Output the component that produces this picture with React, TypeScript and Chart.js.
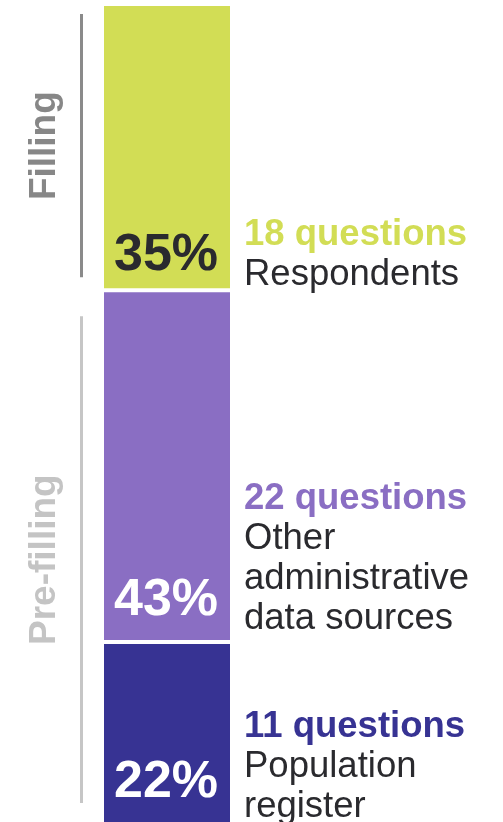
import React, { useEffect, useRef } from 'react';
import { Chart, registerables } from 'chart.js';
Chart.register(...registerables);

// ---- data (bottom to top) ----
const categories = ['Population register', 'Other administrative data sources', 'Respondents'];
const shares = [22, 43, 35];
const questionCounts = [11, 22, 18];
const percentLabels = ['22%', '43%', '35%'];
const descriptionLines = [['Population', 'register'], ['Other', 'administrative', 'data sources'], ['Respondents']];
const groupNames = ['Pre-filling', 'Filling'];
const groupMembers = [[0, 1], [2]];

// ---- styles ----
const segmentColors = ['#373393', '#8a6ec3', '#d2dd55'];
const percentColors = ['#ffffff', '#ffffff', '#2a2a2e'];
const textDark = '#2a2a2e';
const groupLineColors = ['#c6c6c6', '#8a8a8a'];
const groupTextColors = ['#c4c4c4', '#878787'];
const groupInsets = [[26, 19], [10, 13]];
const percentGap = [25, 27, 20];
const descGap = [5, 13, 5];
const FONT = '"Liberation Sans", Arial, sans-serif';

const labelPlugin = {
  id: 'labelPlugin',
  afterDatasetsDraw(chart: any) {
    const ctx = chart.ctx as CanvasRenderingContext2D;
    ctx.save();
    const geo: any[] = [];
    chart.data.datasets.forEach((_: any, i: number) => {
      const el = chart.getDatasetMeta(i).data[0];
      const p = el.getProps(['x', 'y', 'base', 'width'], true);
      geo.push(p);
      const left = p.x - p.width / 2;
      const right = p.x + p.width / 2;
      // percentage inside bar
      ctx.font = `bold 52px ${FONT}`;
      ctx.textAlign = 'left';
      ctx.textBaseline = 'alphabetic';
      ctx.fillStyle = percentColors[i];
      ctx.fillText(percentLabels[i], left + 10, p.base - percentGap[i]);
      // description
      const lines = [`${questionCounts[i]} questions`, ...descriptionLines[i]];
      const n = lines.length;
      lines.forEach((line, k) => {
        const yy = p.base - descGap[i] - (n - 1 - k) * 40;
        if (k === 0) {
          ctx.font = `bold 36.5px ${FONT}`;
          ctx.fillStyle = segmentColors[i];
        } else {
          ctx.font = `36.5px ${FONT}`;
          ctx.fillStyle = textDark;
        }
        ctx.fillText(line, right + 14, yy);
      });
    });
    // group brackets
    groupNames.forEach((name, g) => {
      const members = groupMembers[g];
      const top = Math.min(...members.map((m) => Math.min(geo[m].y, geo[m].base)));
      const bottom = Math.max(...members.map((m) => Math.max(geo[m].y, geo[m].base)));
      const y1 = top + groupInsets[g][0];
      const y2 = bottom - groupInsets[g][1];
      ctx.strokeStyle = groupLineColors[g];
      ctx.lineWidth = 3;
      ctx.beginPath();
      ctx.moveTo(81.5, y1);
      ctx.lineTo(81.5, y2);
      ctx.stroke();
      ctx.save();
      ctx.translate(55, (y1 + y2) / 2);
      ctx.rotate(-Math.PI / 2);
      ctx.font = `bold 37px ${FONT}`;
      ctx.textAlign = 'center';
      ctx.textBaseline = 'alphabetic';
      ctx.fillStyle = groupTextColors[g];
      ctx.fillText(name, 0, 0);
      ctx.restore();
    });
    ctx.restore();
  },
};

export default function App() {
  const ref = useRef<HTMLCanvasElement>(null);
  useEffect(() => {
    document.body.style.margin = '0';
    const chart = new Chart(ref.current as HTMLCanvasElement, {
      type: 'bar',
      data: {
        labels: ['Questions'],
        datasets: categories.map((c, i) => ({
          label: c,
          data: [shares[i]],
          backgroundColor: segmentColors[i],
          borderColor: '#ffffff',
          borderWidth: { top: 2, bottom: i === 0 ? 0 : 2, left: 0, right: 0 },
          borderSkipped: false,
          barPercentage: 1,
          categoryPercentage: 1,
          inflateAmount: 0,
        })),
      },
      options: {
        responsive: false,
        animation: false,
        devicePixelRatio: 1,
        layout: { padding: { left: 104, right: 273, top: 4, bottom: 0 } },
        plugins: { legend: { display: false }, tooltip: { enabled: false } },
        scales: {
          x: { stacked: true, display: false },
          y: { stacked: true, display: false, min: 0, max: 100 },
        },
      },
      plugins: [labelPlugin],
    } as any);
    return () => chart.destroy();
  }, []);
  return (
    <div style={{ width: 503, height: 822 }}>
      <canvas ref={ref} width={503} height={822} style={{ display: 'block' }} />
    </div>
  );
}
